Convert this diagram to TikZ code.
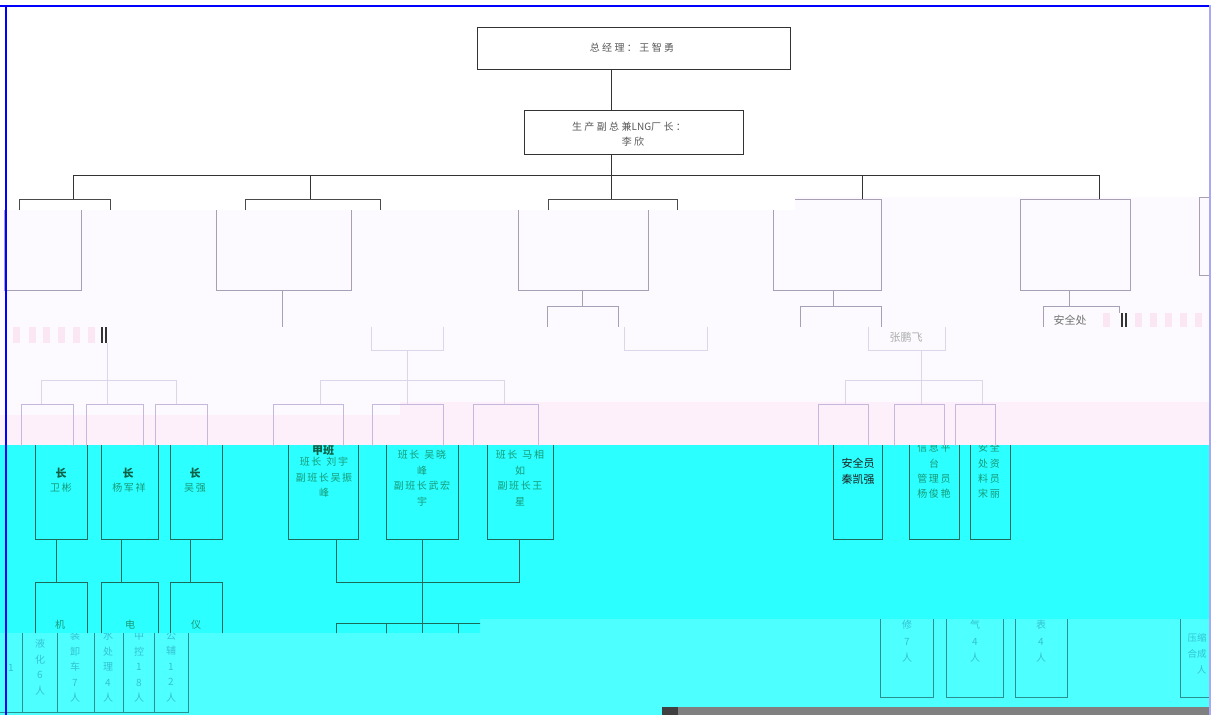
\documentclass[tikz,border=0pt]{standalone}
\usepackage{fontspec}
\newfontfamily\cjk{Noto Sans CJK SC}
\newfontfamily\cjksp[LetterSpace=24]{Noto Sans CJK SC}
\newfontfamily\cjkmid[LetterSpace=16]{Noto Sans CJK SC}
\definecolor{lav}{HTML}{FCFAFE}
\definecolor{pinkb}{HTML}{FDF0FB}
\definecolor{cyanb}{HTML}{2BFFFF}
\definecolor{cyanl}{HTML}{4EFFFF}
\definecolor{topline}{HTML}{333333}
\definecolor{subline}{HTML}{4A4A4A}
\definecolor{gline}{HTML}{A69FB6}
\definecolor{fline}{HTML}{DCD6EA}
\definecolor{pline}{HTML}{C6B8DC}
\definecolor{tline}{HTML}{1B6B5B}
\definecolor{ttext}{HTML}{179A78}
\definecolor{tbold}{HTML}{0D5F45}
\definecolor{lline}{HTML}{2A9090}
\definecolor{ltext}{HTML}{32C2D2}
\definecolor{stripe}{HTML}{FBE6F3}
\definecolor{rborder}{HTML}{A8A8F4}
\begin{document}
\begin{tikzpicture}[x=1pt,y=-1pt,
  bx/.style n args={2}{anchor=north west, minimum width=#1, minimum height=#2, inner sep=0pt, outer sep=0pt, line width=0.9pt},
  txt/.style={inner sep=0pt, font=\cjk\fontsize{10}{12}\selectfont},
  vtxt/.style={inner sep=0pt, anchor=north, align=center, font=\cjk\fontsize{10}{15.5}\selectfont},
  ln/.style={draw=#1, line width=0.9pt}]
\useasboundingbox (0,0) rectangle (1211,715);
% ---------- background bands ----------
\fill[white] (0,0) rectangle (1211,715);
\fill[lav] (0,210) -- (795,210) -- (795,197) -- (1211,197) -- (1211,402) -- (400,402) -- (400,415) -- (0,415) -- cycle;
\fill[pinkb] (0,415) -- (400,415) -- (400,402) -- (1211,402) -- (1211,445) -- (0,445) -- cycle;
\fill[cyanb] (0,445) -- (1211,445) -- (1211,619) -- (480,619) -- (480,633) -- (0,633) -- cycle;
\fill[cyanl] (0,633) -- (480,633) -- (480,619) -- (1211,619) -- (1211,715) -- (0,715) -- cycle;
\fill[gray] (662,707) rectangle (1211,715);
\fill[black!75] (662,707) rectangle (678,715);
% stripes (left and right)
\foreach \sx in {13,29,43,58,73,88} {\fill[stripe] (\sx,327) rectangle ++(7,16);}
\foreach \sx in {1103,1135,1150,1165,1180,1195} {\fill[stripe] (\sx,313) rectangle ++(7,14);}
\draw[black!80, line width=1.2pt] (102,327) -- (102,343) (106,327) -- (106,343);
\draw[black!80, line width=1.2pt] (1122,313) -- (1122,327) (1126,313) -- (1126,327);

% ---------- band 1 : white top ----------
\node[bx={313pt}{42pt}, draw=topline] (gm) at (477,27) {};
\node[txt, text=black!65, font=\cjksp\fontsize{10}{12}\selectfont] (gmt) at (632,48) {总经理：王智勇};
\node[bx={219pt}{44pt}, draw=topline] (vp) at (524,110) {};
\node[txt, text=black!65, font=\cjksp\fontsize{10}{12}\selectfont] (vpt1) at (629,127) {生产副总兼{\cjk LNG}厂长：};
\node[txt, text=black!65, font=\cjksp\fontsize{10}{12}\selectfont] (vpt2) at (633,142) {李欣};
\coordinate (j0) at (611,175);
\coordinate (bL) at (73,175);
\coordinate (bR) at (1099,175);
\draw[ln=topline] (gm.south -| j0) -- (vp.north -| j0);
\draw[ln=topline] (vp.south -| j0) -- (j0);
\draw[ln=topline] (bL) -- (bR);
% drops and sub-buses
\coordinate (s1) at (73,199); \coordinate (s2) at (310,199); \coordinate (s3) at (611,199);
\draw[ln=topline] (bL) -- (s1);
\draw[ln=topline] (310,175) -- (s2);
\draw[ln=topline] (j0) -- (s3);
\draw[ln=subline] (19,210) -- (19,199) -- (110,199) -- (110,210);
\draw[ln=subline] (245,210) -- (245,199) -- (380,199) -- (380,210);
\draw[ln=subline] (548,210) -- (548,199) -- (677,199) -- (677,210);

% ---------- band 2 : lavender, level-2 boxes ----------
\begin{scope}
\clip (0,210) -- (795,210) -- (795,197) -- (1211,197) -- (1211,327) -- (0,327) -- cycle;
\node[bx={77pt}{85pt}, draw=gline] (d1) at (4,205) {};
\node[bx={135pt}{85pt}, draw=gline] (d2) at (216,205) {};
\node[bx={130pt}{85pt}, draw=gline] (d3) at (518,205) {};
\node[bx={108pt}{91pt}, draw=gline] (d4) at (773,199) {};
\node[bx={110pt}{91pt}, draw=gline] (d5) at (1020,199) {};
\node[bx={40pt}{78pt}, draw=gline] (d6) at (1199,197) {};
\draw[ln=gline] (282,290) -- (282,327);
\draw[ln=gline] (582,290) -- (582,306);
\draw[ln=gline] (547,327) -- (547,306) -- (618,306) -- (618,327);
\draw[ln=gline] (833,290) -- (833,306);
\draw[ln=gline] (800,327) -- (800,306) -- (881,306) -- (881,327);
\draw[ln=gline] (1069,290) -- (1069,306);
\draw[ln=gline] (1043,327) -- (1043,306) -- (1119,306) -- (1119,313);
\node[txt, text=black!55, font=\cjk\fontsize{11}{13}\selectfont] (aq) at (1070,320) {安全处};
\end{scope}
\draw[ln=topline] (862,175) -- (d4.north -| 862,0);
\draw[ln=topline] (bR) -- (d5.north -| bR);

% ---------- band 3 : faded ----------
\begin{scope}
\clip (0,327) rectangle (1211,404);
\node[bx={72pt}{30pt}, draw=fline] (e1) at (371,320) {};
\node[bx={83pt}{30pt}, draw=fline] (e2) at (624,320) {};
\node[bx={77pt}{30pt}, draw=fline] (e3) at (868,320) {};
\node[txt, text=black!32, font=\cjk\fontsize{11}{13}\selectfont] (zpf) at (906,337) {张鹏飞};
\draw[ln=fline] (107,343) -- (107,380);
\draw[ln=fline] (41,404) -- (41,380) -- (176,380) -- (176,404) (107,380) -- (107,404);
\draw[ln=fline] (407,350) -- (407,380);
\draw[ln=fline] (320,404) -- (320,380) -- (504,380) -- (504,404) (407,380) -- (407,404);
\draw[ln=fline] (921,350) -- (921,380);
\draw[ln=fline] (845,404) -- (845,380) -- (982,380) -- (982,404) (921,380) -- (921,404);
\end{scope}

% ---------- band 4 : pink ----------
\begin{scope}
\clip (0,400) rectangle (1211,445);
\foreach \nm/\bxx/\bw in {f1/21/52, f2/86/57, f3/155/52, f4/273/70, f5/372/71, f6/473/65, f7/818/50, f8/894/50, f9/955/40}
  {\node[bx={\bw pt}{60pt}, draw=pline] (\nm) at (\bxx,404) {};}
\end{scope}

% ---------- band 5 : cyan ----------
\begin{scope}
\clip (0,445) -- (1211,445) -- (1211,619) -- (480,619) -- (480,633) -- (0,633) -- cycle;
\node[bx={52pt}{99pt}, draw=tline] (g1) at (35,440) {};
\node[bx={57pt}{99pt}, draw=tline] (g2) at (101,440) {};
\node[bx={52pt}{99pt}, draw=tline] (g3) at (170,440) {};
\node[bx={70pt}{99pt}, draw=tline] (g4) at (288,440) {};
\node[bx={72pt}{99pt}, draw=tline] (g5) at (386,440) {};
\node[bx={66pt}{99pt}, draw=tline] (g6) at (487,440) {};
\node[bx={49pt}{99pt}, draw=tline] (g7) at (833,440) {};
\node[bx={50pt}{99pt}, draw=tline] (g8) at (909,440) {};
\node[bx={40pt}{99pt}, draw=tline] (g9) at (970,440) {};
\node[bx={52pt}{80pt}, draw=tline] (h1) at (35,582) {};
\node[bx={57pt}{80pt}, draw=tline] (h2) at (101,582) {};
\node[bx={52pt}{80pt}, draw=tline] (h3) at (170,582) {};
\node[bx={50pt}{60pt}, draw=tline] (k1) at (336,623) {};
\node[bx={72pt}{60pt}, draw=tline] (k2) at (386,623) {};
\node[bx={72pt}{60pt}, draw=tline] (k3) at (458,623) {};
\draw[ln=tline] (g1.south -| 56,0) -- (h1.north -| 56,0);
\draw[ln=tline] (g2.south -| 121,0) -- (h2.north -| 121,0);
\draw[ln=tline] (g3.south -| 190,0) -- (h3.north -| 190,0);
\draw[ln=tline] (g4.south -| 336,0) -- (336,582) -- (519,582) -- (g6.south -| 519,0);
\draw[ln=tline] (g5.south -| 422,0) -- (422,633);
% texts
\node[txt, text=tbold, font=\cjk\bfseries\fontsize{11}{13}\selectfont] (c1) at (61,473) {长};
\node[txt, text=tbold, font=\cjk\bfseries\fontsize{11}{13}\selectfont] (c2) at (128,473) {长};
\node[txt, text=tbold, font=\cjk\bfseries\fontsize{11}{13}\selectfont] (c3) at (195,473) {长};
\node[txt, text=ttext, font=\cjkmid\fontsize{10}{12}\selectfont] (n1) at (61,488) {卫彬};
\node[txt, text=ttext, font=\cjkmid\fontsize{10}{12}\selectfont] (n2) at (129,488) {杨军祥};
\node[txt, text=ttext, font=\cjkmid\fontsize{10}{12}\selectfont] (n3) at (195,488) {吴强};
\node[txt, text=tbold, font=\cjk\bfseries\fontsize{11}{13}\selectfont] (jb) at (323,450) {甲班};
\node[vtxt, text=ttext, font=\cjkmid\fontsize{10}{15.5}\selectfont] (jbt) at (324,457) {班长\enspace 刘宇\\副班长吴振\\峰};
\node[vtxt, text=ttext, font=\cjkmid\fontsize{10}{15.5}\selectfont] (ybt) at (422,450) {班长\enspace 吴晓\\峰\\副班长武宏\\宇};
\node[vtxt, text=ttext, font=\cjkmid\fontsize{10}{15.5}\selectfont] (bbt) at (520,450) {班长\enspace 马相\\如\\副班长王\\星};
\node[vtxt, text=black!88, font=\cjk\fontsize{11}{16}\selectfont] (aqy) at (858,458) {安全员\\秦凯强};
\node[vtxt, text=ttext, font=\cjkmid\fontsize{10}{15.3}\selectfont] (xx) at (934,443) {信息平\\台\\管理员\\杨俊艳};
\node[vtxt, text=ttext, font=\cjkmid\fontsize{10}{15.3}\selectfont] (aqz) at (989,443) {安全\\处资\\料员\\宋丽};
\node[txt, text=ttext] (m1) at (60,625) {机};
\node[txt, text=ttext] (m2) at (130,625) {电};
\node[txt, text=ttext] (m3) at (196,625) {仪};
\end{scope}

% ---------- band 6 : light cyan ----------
\begin{scope}
\clip (0,633) -- (480,633) -- (480,619) -- (1211,619) -- (1211,715) -- (0,715) -- cycle;
\node[bx={32pt}{92pt}, draw=lline] (p0) at (-10,620) {};
\node[bx={35pt}{92pt}, draw=lline] (p1) at (22,620) {};
\node[bx={37pt}{92pt}, draw=lline] (p2) at (57,620) {};
\node[bx={29pt}{92pt}, draw=lline] (p3) at (94,620) {};
\node[bx={31pt}{92pt}, draw=lline] (p4) at (123,620) {};
\node[bx={34pt}{92pt}, draw=lline] (p5) at (154,620) {};
\node[bx={53pt}{90pt}, draw=lline] (q1) at (880,607) {};
\node[bx={57pt}{90pt}, draw=lline] (q2) at (946,607) {};
\node[bx={52pt}{90pt}, draw=lline] (q3) at (1015,607) {};
\node[bx={60pt}{90pt}, draw=lline] (q4) at (1180,607) {};
\node[txt, text=ltext] (t0) at (11,668) {1};
\node[vtxt, text=ltext] (t1) at (40,639) {液\\化\\6\\人};
\node[vtxt, text=ltext] (t2) at (75,631) {装\\卸\\车\\7\\人};
\node[vtxt, text=ltext] (t3) at (108,631) {水\\处\\理\\4\\人};
\node[vtxt, text=ltext] (t4) at (139,631) {中\\控\\1\\8\\人};
\node[vtxt, text=ltext] (t5) at (171,631) {公\\辅\\1\\2\\人};
\node[vtxt, text=ltext, font=\cjk\fontsize{10}{16.5}\selectfont] (u1) at (907,620) {修\\7\\人};
\node[vtxt, text=ltext, font=\cjk\fontsize{10}{16.5}\selectfont] (u2) at (975,620) {气\\4\\人};
\node[vtxt, text=ltext, font=\cjk\fontsize{10}{16.5}\selectfont] (u3) at (1041,620) {表\\4\\人};
\node[vtxt, text=ltext, font=\cjk\fontsize{9.5}{16}\selectfont] (u4) at (1197,633) {压缩\\合成\\\hspace*{9pt}人};
\end{scope}

% ---------- frame ----------
\draw[blue, line width=2pt] (0,6) -- (1211,6);
\draw[blue, line width=2.2pt] (6.2,5) -- (6.2,715);
\draw[rborder, line width=1.5pt] (1210,5) -- (1210,715);
\end{tikzpicture}
\end{document}
